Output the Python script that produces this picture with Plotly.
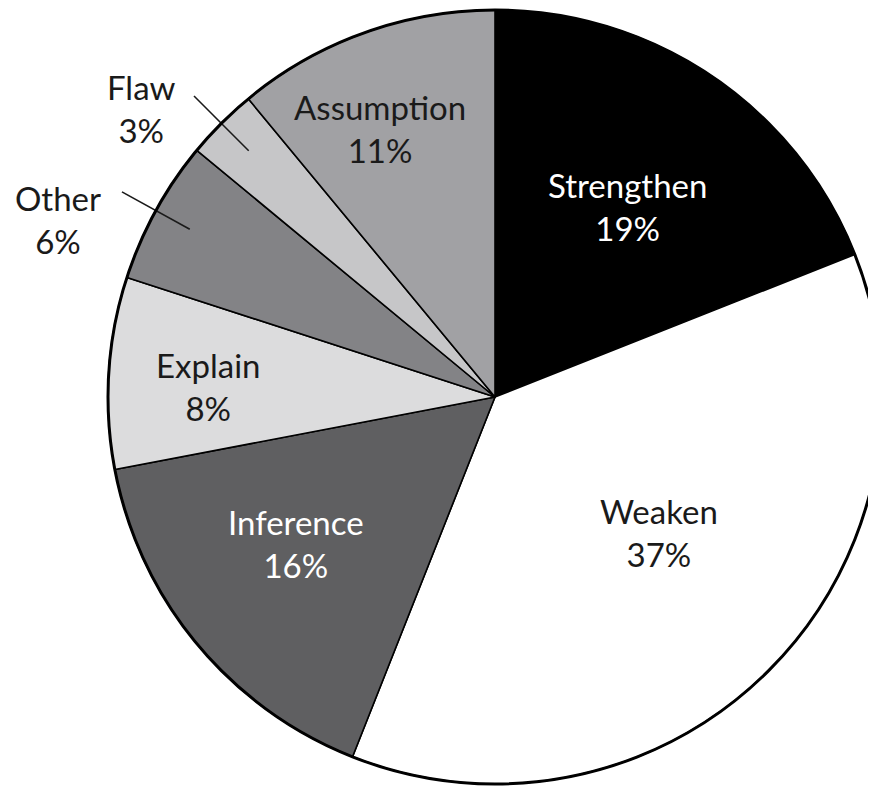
import math
import plotly.graph_objects as go

labels = ["Strengthen", "Weaken", "Inference", "Explain", "Other", "Flaw", "Assumption"]
values = [19, 37, 16, 8, 6, 3, 11]
colors = ["#000000", "#ffffff", "#5f5f61", "#dcdcdd", "#838386", "#c6c6c8", "#a1a1a4"]
text_colors = ["#ffffff", "#1a1a1a", "#ffffff", "#1a1a1a", "#1a1a1a", "#1a1a1a", "#1a1a1a"]
# label placement style: radial fraction and angular nudge (deg)
label_r = [0.60, 0.55, 0.64, 0.74, 1.22, 1.18, 0.755]
label_dt = [0.5, -5.4, 3.2, -1.4, -6.7, -5.8, -3.4]
leader = [False, False, False, False, True, True, False]

W, H = 876, 786
OFF = 8  # page body margin offset
R = 387
cx = 495 - OFF
cy = 397 - OFF  # from top of figure
dom_x = [(cx - R) / W, min(1.0, (cx + R) / W)]
dom_y = [(H - cy - R) / H, (H - cy + R) / H]

fig = go.Figure(go.Pie(
    labels=labels, values=values, sort=False, direction="clockwise", rotation=0,
    marker=dict(colors=colors, line=dict(color="#000000", width=1.6)),
    textinfo="none", hoverinfo="label+percent", showlegend=False,
    domain=dict(x=dom_x, y=dom_y),
))

total = sum(values)
cum = 0
annotations = []
shapes = []
for lab, v, tc, fr, dt, ld in zip(labels, values, text_colors, label_r, label_dt, leader):
    mid = (cum + v / 2) / total * 360
    cum += v
    th = math.radians(mid + dt)
    px = cx + fr * R * math.sin(th)
    py = cy - fr * R * math.cos(th)
    pct = round(v / total * 100)
    annotations.append(dict(
        x=px / W, y=1 - py / H, xref="paper", yref="paper",
        text=f"{lab}<br>{pct}%", showarrow=False,
        font=dict(family="Lato, 'Open Sans', sans-serif", size=33, color=tc),
        align="center", xanchor="center", yanchor="middle",
    ))
    if ld:
        tm = math.radians(mid)
        r0, r1 = 0.90 * R, 1.10 * R
        shapes.append(dict(
            type="line", xref="paper", yref="paper",
            x0=(cx + r0 * math.sin(tm)) / W, y0=1 - (cy - r0 * math.cos(tm)) / H,
            x1=(cx + r1 * math.sin(tm)) / W, y1=1 - (cy - r1 * math.cos(tm)) / H,
            line=dict(color="#1a1a1a", width=1.6),
        ))

# thicker outer rim
shapes.append(dict(
    type="circle", xref="paper", yref="paper",
    x0=(cx - R) / W, x1=(cx + R) / W, y0=1 - (cy + R) / H, y1=1 - (cy - R) / H,
    line=dict(color="#000000", width=3),
))

fig.update_layout(
    width=W, height=H, margin=dict(l=0, r=0, t=0, b=0),
    paper_bgcolor="#ffffff", plot_bgcolor="#ffffff",
    annotations=annotations, shapes=shapes,
)
fig.write_html("out.html")
